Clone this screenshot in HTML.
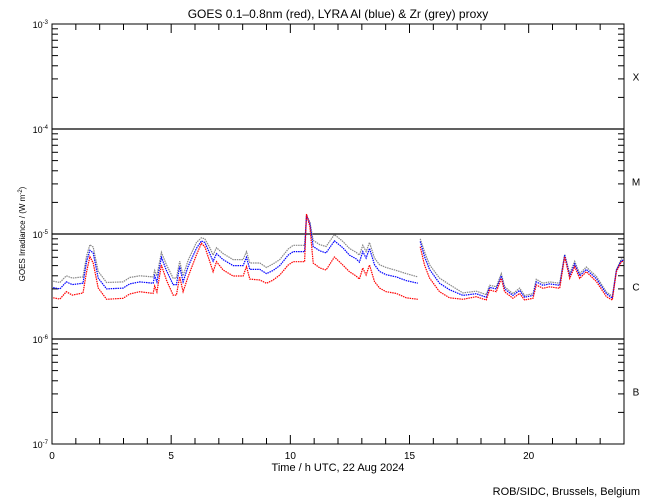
<!DOCTYPE html>
<html><head><meta charset="utf-8"><style>
body{margin:0;background:#fff;}
svg{display:block;font-family:"Liberation Sans",sans-serif;}
</style></head><body>
<svg id="chart" width="650" height="500" viewBox="0 0 650 500">
<rect x="0" y="0" width="650" height="500" fill="#fff"/>
<text x="338" y="18" font-size="12" text-anchor="middle">GOES 0.1–0.8nm (red), LYRA Al (blue) &amp; Zr (grey) proxy</text>
<g id="axes"></g>
<g id="series"></g>
<text x="338" y="471" font-size="11" text-anchor="middle">Time / h UTC, 22 Aug 2024</text>
<text transform="translate(25,234) rotate(-90)" font-size="8" text-anchor="middle">GOES Irradiance / (W m<tspan dy="-3" font-size="6">-2</tspan><tspan dy="3">)</tspan></text>
<text x="640" y="495" font-size="11" text-anchor="end">ROB/SIDC, Brussels, Belgium</text>
</svg>
<script>
// hours (UTC)
const hours = [0.05,0.33,0.6,0.85,1.3,1.45,1.59,1.73,1.94,2.29,2.98,3.26,3.68,4.24,4.31,4.4,4.59,4.8,5.08,5.22,5.36,5.5,5.71,6.06,6.27,6.41,6.62,6.76,6.9,7.18,7.6,8.02,8.16,8.3,8.72,9.0,9.28,9.56,9.91,10.12,10.6,10.68,10.82,10.96,11.24,11.5,11.85,12.2,12.48,12.76,12.9,13.04,13.18,13.32,13.53,13.74,14.02,14.44,14.86,15.35,15.4,15.45,15.63,15.84,16.26,16.68,17.24,17.8,18.22,18.36,18.64,18.85,18.99,19.34,19.62,19.83,20.18,20.32,20.6,20.88,21.3,21.51,21.72,21.93,22.14,22.42,22.84,23.26,23.51,23.68,23.89,24.0];
// flux in units of 1e-6 W/m^2 (null = data gap)
const goesRed = [2.47,2.40,2.82,2.62,2.74,4.37,6.08,5.30,3.06,2.39,2.44,2.68,2.82,2.72,3.20,2.8,5.07,3.65,2.62,2.62,3.92,2.82,3.92,6.31,8.15,7.57,5.45,4.37,5.45,4.54,3.98,3.98,4.89,3.72,3.65,3.39,3.65,4.07,5.07,5.45,5.45,15.5,11.7,5.30,4.74,4.54,6.04,5.07,4.37,3.98,3.72,4.74,4.07,5.07,3.52,3.06,2.82,2.72,2.47,2.39,null,7.57,5.07,3.81,2.82,2.47,2.39,2.53,2.35,2.93,2.82,3.78,2.82,2.44,2.72,2.35,2.44,3.27,3.04,3.14,3.04,6.08,3.78,4.89,3.78,4.37,3.52,2.53,2.35,4.37,5.45,5.5];
const lyraAl = [3.09,3.0,3.5,3.3,3.4,5.5,7.0,6.6,3.8,3.0,3.05,3.35,3.5,3.4,4.0,3.5,6.0,4.5,3.3,3.3,4.9,3.5,4.9,7.3,8.6,8.3,6.5,5.5,6.5,5.7,5.0,5.0,6.0,4.6,4.6,4.2,4.5,5.0,6.3,6.8,6.8,15.0,12.5,7.6,6.9,6.6,8.6,7.4,6.3,5.8,5.4,6.8,5.9,7.3,5.1,4.4,4.1,3.9,3.6,3.4,null,8.5,6.1,4.6,3.4,2.95,2.6,2.7,2.5,3.1,3.0,4.0,3.0,2.6,2.9,2.5,2.6,3.5,3.25,3.35,3.25,6.3,4.0,5.2,4.0,4.6,3.75,2.7,2.45,4.5,5.6,5.6];
const lyraZr = [3.55,3.45,4.0,3.8,3.9,6.2,7.9,7.5,4.4,3.45,3.5,3.85,4.0,3.9,4.5,4.0,6.7,5.1,3.8,3.8,5.5,4.0,5.6,8.3,9.2,9.0,7.4,6.3,7.4,6.5,5.7,5.7,6.8,5.3,5.3,4.8,5.2,5.7,7.2,7.8,7.8,15.0,13.0,8.7,7.9,7.6,9.9,8.5,7.3,6.7,6.3,7.8,6.8,8.3,5.9,5.1,4.8,4.5,4.2,3.9,null,9.0,6.8,5.1,3.8,3.3,2.75,2.85,2.65,3.25,3.15,4.2,3.15,2.7,3.05,2.6,2.7,3.7,3.4,3.5,3.4,6.4,4.2,5.5,4.2,4.85,3.95,2.8,2.55,4.6,5.8,5.8];
const xTickLabels = ["0","5","10","15","20"];
const yExponents = [-7,-6,-5,-4,-3];
const classLabels = ["B","C","M","X"];

const NS="http://www.w3.org/2000/svg";
const L=52,R=624,T=24,B=444;
function xs(h){return L+(R-L)*h/24;}
function ys(flux){return B-(B-T)*(Math.log10(flux)+7)/4;}
const axes=document.getElementById('axes');
const ser=document.getElementById('series');
function mk(tag,attrs,parent){const e=document.createElementNS(NS,tag);for(const k in attrs)e.setAttribute(k,attrs[k]);parent.appendChild(e);return e;}

const frame=mk('rect',{x:L,y:T,width:R-L,height:B-T,fill:'none',stroke:'#000','stroke-width':1},axes);



yExponents.forEach((e,i)=>{
  const y=ys(Math.pow(10,e));
  if(i>0&&i<yExponents.length-1){
    const gl=mk('line',{x1:L,x2:R,y1:y,y2:y,stroke:'#000','stroke-width':1.2},axes);
    
    
  }
  const t=mk('text',{x:L-4,y:y+4,'font-size':9,'text-anchor':'end'},axes);
  
  
  t.innerHTML='10<tspan dy="-4" font-size="6">'+e+'</tspan>';
  if(i<yExponents.length-1){
    for(let m=2;m<=9;m++){
      const ym=ys(m*Math.pow(10,e));
      mk('line',{x1:L,x2:L+6,y1:ym,y2:ym,stroke:'#000'},axes);
      mk('line',{x1:R,x2:R-6,y1:ym,y2:ym,stroke:'#000'},axes);
    }
  }
});
classLabels.forEach((c,i)=>{
  const y=ys(Math.pow(10,-6.5+i));
  const t=mk('text',{x:636,y:y+4,'font-size':10,'text-anchor':'middle'},axes);
  
  
  t.textContent=c;
});
for(let h=0;h<=24;h++){
  const x=xs(h);const len=(h%5===0)?9:6;
  mk('line',{x1:x,x2:x,y1:B,y2:B-len,stroke:'#000'},axes);
  mk('line',{x1:x,x2:x,y1:T,y2:T+len,stroke:'#000'},axes);
}
xTickLabels.forEach(lbl=>{
  const t=mk('text',{x:xs(+lbl),y:459,'font-size':10,'text-anchor':'middle'},axes);
  
  
  t.textContent=lbl;
});

function drawSeries(vals,color,name){
  let d='';let pen=false;
  vals.forEach((v,i)=>{
    if(v===null){pen=false;return;}
    const x=xs(hours[i]).toFixed(1),y=ys(v*1e-6).toFixed(1);
    d+=(pen?'L':'M')+x+' '+y+' ';pen=true;
  });
  const p=mk('path',{d:d,fill:'none',stroke:color,'stroke-width':1.2,'stroke-dasharray':'1.5 0.8'},ser);
  
  
}
drawSeries(lyraZr,'#888888','lyra-zr-series');
drawSeries(lyraAl,'#0000ff','lyra-al-series');
drawSeries(goesRed,'#ff0000','goes-xrs-series');
</script>
</body></html>
